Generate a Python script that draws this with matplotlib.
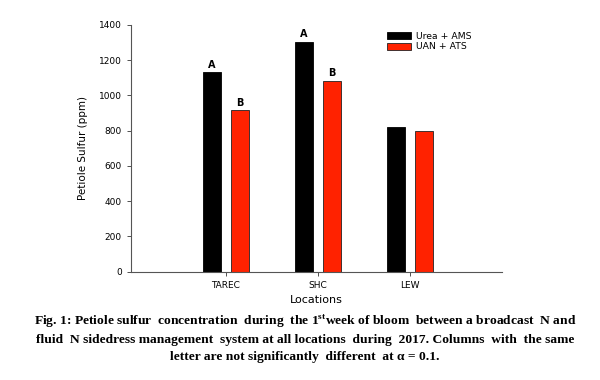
import matplotlib
matplotlib.use("Agg")
import matplotlib.pyplot as plt
import numpy as np

locations = ["TAREC", "SHC", "LEW"]
urea_ams = [1131, 1303, 823]
uan_ats = [916, 1084, 798]
letters_urea = ["A", "A", ""]
letters_uan = ["B", "B", ""]
yticks = [0, 200, 400, 600, 800, 1000, 1200, 1400]

plt.rcParams['mathtext.fontset'] = 'custom'
plt.rcParams['mathtext.bf'] = 'Liberation Serif:bold'
plt.rcParams['mathtext.rm'] = 'Liberation Serif:bold'

fig = plt.figure(figsize=(6, 3.8), dpi=100)
ax = fig.add_axes([131/600, 1-271.7/380, (502-131)/600, (271.7-25)/380])

x = np.arange(len(locations))
w = 0.196
off = 0.152
ax.bar(x - off, urea_ams, w, color="black", edgecolor="black", linewidth=0.6, label="Urea + AMS")
ax.bar(x + off, uan_ats, w, color="#ff2200", edgecolor="#222222", linewidth=0.6, label="UAN + ATS")

for xi, v, t in zip(x - off, urea_ams, letters_urea):
    if t:
        ax.text(xi, v + 15, t, ha="center", va="bottom", fontsize=7, fontweight="bold")
for xi, v, t in zip(x + off, uan_ats, letters_uan):
    if t:
        ax.text(xi, v + 15, t, ha="center", va="bottom", fontsize=7, fontweight="bold")

ax.set_xlim(-1.03, 3.0)
ax.set_ylim(0, 1400)
ax.set_yticks(yticks)
ax.set_xticks(x)
ax.set_xticklabels(locations)
ax.tick_params(axis="both", labelsize=6.5, length=3, width=0.6, colors="#333333", labelcolor="black")
for s in ["top", "right"]:
    ax.spines[s].set_visible(False)
for s in ["left", "bottom"]:
    ax.spines[s].set_color("#555555")
    ax.spines[s].set_linewidth(0.8)

ax.set_ylabel("Petiole Sulfur (ppm)", fontsize=7.5, labelpad=8)
ax.set_xlabel("Locations", fontsize=8, labelpad=4)

ax.legend(loc="upper right", bbox_to_anchor=(0.935, 1.0), fontsize=6.7, frameon=False,
          handlelength=2.6, handleheight=0.8, labelspacing=0.2, handletextpad=0.5, borderaxespad=0.3)

caption = ("Fig. 1: Petiole sulfur  concentration  during  the 1$^{\\mathrm{st}}$week of bloom  between a broadcast  N and\n"
           "fluid  N sidedress management  system at all locations  during  2017. Columns  with  the same\n"
           "letter are not significantly  different  at \u03b1 = 0.1.")
fig.text(0.508, 1 - 312/380, caption, ha="center", va="top", fontsize=9.7, fontweight="bold",
         family="Liberation Serif", linespacing=1.52)

fig.savefig("out.png", dpi=100, facecolor="white")
